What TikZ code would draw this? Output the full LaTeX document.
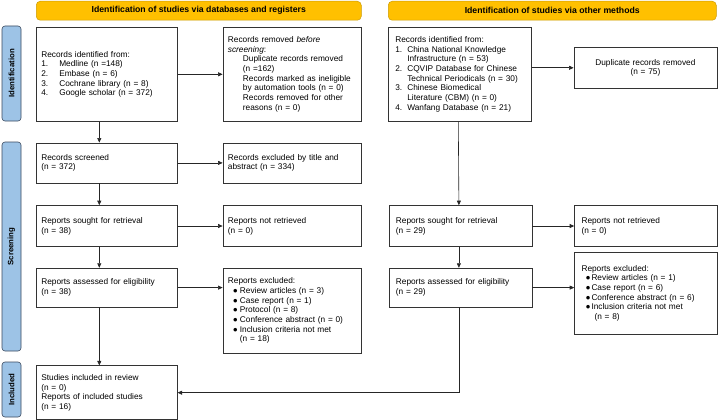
\documentclass[tikz,border=0pt]{standalone}
\usepackage{fontspec}
\setmainfont{Liberation Sans}
\usetikzlibrary{arrows.meta, positioning}

\definecolor{phaseblue}{RGB}{157,195,230}
\definecolor{phaseline}{RGB}{60,75,95}
\definecolor{bannergold}{RGB}{255,192,0}
\definecolor{bannerline}{RGB}{205,155,0}

\newcommand{\numl}[1]{\makebox[18pt][l]{#1}}
\newcommand{\numr}[1]{\makebox[12pt][l]{#1}}
\newcommand{\bul}{\hspace*{5pt}\makebox[7pt][l]{●}}
\newcommand{\bulr}{\hspace*{4pt}\makebox[6pt][l]{●}}

\begin{document}
\begin{tikzpicture}[
        x=1pt, y=-1pt,
        node distance=21pt,
        box/.style={rectangle, draw=black!80, line width=0.6pt, align=left,
                    inner sep=5pt, font=\fontsize{8.3}{9.7}\selectfont},
        leftbox/.style={box, text width=131pt, minimum width=141pt},
        midbox/.style={box, text width=128pt, minimum width=138pt},
        rightbox/.style={box, text width=129pt, minimum width=143pt, inner xsep=7pt},
        phase/.style={rectangle, rounded corners=3pt, draw=phaseline, fill=phaseblue,
                      line width=0.6pt, minimum height=19pt, inner sep=0pt, rotate=90,
                      font=\fontsize{7.8}{9}\selectfont\bfseries},
        banner/.style={rectangle, rounded corners=4pt, draw=bannerline, fill=bannergold,
                       line width=0.5pt, minimum height=19pt, anchor=north west,
                       font=\fontsize{8.7}{9}\selectfont\bfseries},
        arrow/.style={line width=0.6pt, draw=black!85, -{Triangle[length=4.5pt, width=4pt]}}
    ]
        \useasboundingbox (0,0) rectangle (720,420);

        % banners
        \node[banner, minimum width=325pt] (bannerdb) at (36,1) {Identification of studies via databases and registers};
        \node[banner, minimum width=328pt] (bannerother) at (388,1) {Identification of studies via other methods};

        % phases
        \node[phase, minimum width=95pt] (phaseid) at (11.5,73.5) {Identification};
        \node[phase, minimum width=209pt] (phasescreen) at (11.5,246.5) {Screening};
        \node[phase, minimum width=55pt] (phaseinc) at (11.5,389.5) {Included};

        % databases and registers
        \node[leftbox, anchor=north west, minimum height=94pt] (identified) at (36,27) {Records identified from:\\
            \numl{1.}Medline (n =148)\\
            \numl{2.}Embase (n = 6)\\
            \numl{3.}Cochrane library (n = 8)\\
            \numl{4.}Google scholar (n = 372)};
        \node[midbox, minimum height=94pt, right=45pt of identified] (removed) {Records removed \textit{before}\\
            \textit{screening}:\\
            \hspace*{15pt}Duplicate records removed\\
            \hspace*{15pt}(n =162)\\
            \hspace*{15pt}Records marked as ineligible\\
            \hspace*{15pt}by automation tools (n = 0)\\
            \hspace*{15pt}Records removed for other\\
            \hspace*{15pt}reasons (n = 0)};

        \node[leftbox, minimum height=40pt, below=21pt of identified] (screened) {Records screened\\(n = 372)};
        \node[midbox, minimum height=40pt, right=45pt of screened] (excluded) {Records excluded by title and\\abstract (n = 334)};

        \node[leftbox, minimum height=41pt, below=22pt of screened] (sought) {Reports sought for retrieval\\(n = 38)};
        \node[midbox, minimum height=41pt, right=45pt of sought] (notretrieved) {Reports not retrieved\\(n = 0)};

        \node[leftbox, minimum height=39pt, below=21pt of sought] (assessed) {Reports assessed for eligibility\\(n = 38)};
        \node[midbox, minimum height=85pt, right=45pt of assessed.north east, anchor=north west] (reportsexcl) {Reports excluded:\\
            \bul Review articles (n = 3)\\
            \bul Case report (n = 1)\\
            \bul Protocol (n = 8)\\
            \bul Conference abstract (n = 0)\\
            \bul Inclusion criteria not met\\
            \hspace*{12pt}(n = 18)};

        \node[leftbox, minimum height=54pt, below=58pt of assessed] (included) {Studies included in review\\(n = 0)\\Reports of included studies\\(n = 16)};

        % other methods
        \node[rightbox, anchor=north west, minimum height=94pt] (identifiedother) at (388,27) {Records identified from:\\
            \numr{1.}China National Knowledge\\
            \hspace*{12pt}Infrastructure (n = 53)\\
            \numr{2.}CQVIP Database for Chinese\\
            \hspace*{12pt}Technical Periodicals (n = 30)\\
            \numr{3.}Chinese Biomedical\\
            \hspace*{12pt}Literature (CBM) (n = 0)\\
            \numr{4.}Wanfang Database (n = 21)};
        \node[rightbox, minimum height=41pt, align=center, right=42pt of identifiedother.north east, anchor=north west, yshift=-20pt] (duplicates) {Duplicate records removed\\(n = 75)};

        \node[rightbox, minimum height=41pt, right=211pt of sought] (soughtother) {Reports sought for retrieval\\(n = 29)};
        \node[rightbox, minimum height=41pt, right=42pt of soughtother] (notretrievedother) {Reports not retrieved\\(n = 0)};

        \node[rightbox, minimum height=39pt, right=211pt of assessed] (assessedother) {Reports assessed for eligibility\\(n = 29)};
        \node[rightbox, minimum height=82pt, right=42pt of assessedother.north east, anchor=north west, yshift=16pt] (reportsexclother) {Reports excluded:\\
            \bulr Review articles (n = 1)\\
            \bulr Case report (n = 6)\\
            \bulr Conference abstract (n = 6)\\
            \bulr Inclusion criteria not met\\
            \hspace*{13pt}(n = 8)};

        % connectors
        \draw[arrow] ([xshift=-7.5pt]identified.south) -- ([xshift=-7.5pt]screened.north);
        \draw[arrow] ([xshift=-7.5pt]screened.south) -- ([xshift=-7.5pt]sought.north);
        \draw[arrow] ([xshift=-7.5pt]sought.south) -- ([xshift=-7.5pt]assessed.north);
        \draw[arrow] ([xshift=-7.5pt]assessed.south) -- ([xshift=-7.5pt]included.north);

        \draw[arrow] (identified) -- (removed);
        \draw[arrow] (screened) -- (excluded);
        \draw[arrow] (sought) -- (notretrieved);
        \draw[arrow] (assessed.east) -- (assessed.east -| reportsexcl.west);

        \draw[arrow] (identifiedother.east |- duplicates.west) -- (duplicates.west);
        \draw[arrow] ([xshift=-1.5pt]identifiedother.south) -- ([xshift=-1.5pt]soughtother.north);
        \draw[arrow] ([xshift=-1.5pt]soughtother.south) -- ([xshift=-1.5pt]assessedother.north);
        \draw[arrow] (soughtother) -- (notretrievedother);
        \draw[arrow] (assessedother.east) -- (assessedother.east -| reportsexclother.west);
        \draw[arrow] ([xshift=-1.5pt]assessedother.south) |- (included.east);
    \end{tikzpicture}
\end{document}
